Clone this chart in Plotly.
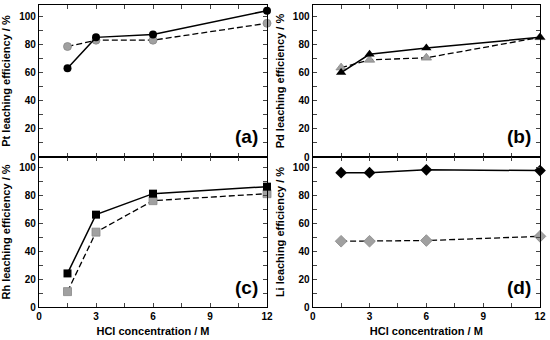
import plotly.graph_objects as go

hcl = [1.5, 3, 6, 12]
pt_black = [63, 85, 87, 104]
pt_gray = [78.5, 83, 83, 95]
pd_black = [60, 73, 77.5, 85]
pd_gray = [63.5, 69, 70.5, 85]
rh_black = [24, 66, 81, 86]
rh_gray = [11, 53.5, 76, 81]
li_black = [96, 96, 98, 97.5]
li_gray = [47, 47, 47.5, 50.5]

panels = [
    ("x", "y", pt_black, pt_gray, "circle", 8, "Pt leaching efficiency / %", "(a)"),
    ("x2", "y2", pd_black, pd_gray, "triangle-up", 9, "Pd leaching efficiency / %", "(b)"),
    ("x3", "y3", rh_black, rh_gray, "square", 8, "Rh leaching efficiency / %", "(c)"),
    ("x4", "y4", li_black, li_gray, "diamond", 9, "Li leaching efficiency / %", "(d)"),
]

FONT = "Arial, Liberation Sans, sans-serif"
fig = go.Figure()
for xa, ya, blk, gry, sym, msz, title, lab in panels:
    fig.add_trace(go.Scatter(x=hcl, y=gry, xaxis=xa, yaxis=ya, mode="lines+markers",
                             line=dict(color="black", width=1.3, dash="6px,3px"),
                             marker=dict(symbol=sym, size=msz, color="#a0a0a0",
                                         line=dict(color="#888888", width=0.8)),
                             cliponaxis=False, showlegend=False))
    fig.add_trace(go.Scatter(x=hcl, y=blk, xaxis=xa, yaxis=ya, mode="lines+markers",
                             line=dict(color="black", width=1.5),
                             marker=dict(symbol=sym, size=msz, color="black"),
                             cliponaxis=False, showlegend=False))

W, H = 550, 340
xl = [39 / W, 267 / W]
xr = [312.7 / W, 540 / W]
yt = [(H - 157) / H, (H - 5) / H]
yb = [(H - 307) / H, (H - 157) / H]

def xaxis(dom, anchor, labels):
    return dict(domain=dom, anchor=anchor, range=[0, 12], tickvals=[0, 3, 6, 9, 12],
                showticklabels=labels, ticks="inside", ticklen=4, tickwidth=1,
                minor=dict(tickvals=[1.5, 4.5, 7.5, 10.5], ticks="inside", ticklen=4, tickwidth=1),
                showline=True, linecolor="black", linewidth=1.3, mirror="ticks",
                showgrid=False, zeroline=False, automargin=False,
                tickfont=dict(family=FONT, size=10, color="black", weight="bold"),
                title=dict(text="HCl concentration / M" if labels else "", standoff=6,
                           font=dict(family=FONT, size=11, color="black", weight="bold")))

def yaxis(dom, anchor, rng, title):
    return dict(domain=dom, anchor=anchor, range=rng, tickvals=[0, 20, 40, 60, 80, 100],
                ticks="inside", ticklen=4, tickwidth=1,
                minor=dict(tickvals=[10, 30, 50, 70, 90], ticks="inside", ticklen=4, tickwidth=1),
                showline=True, linecolor="black", linewidth=1.3, mirror="ticks",
                showgrid=False, zeroline=False, automargin=False,
                tickfont=dict(family=FONT, size=10, color="black", weight="bold"),
                title=dict(text=title, standoff=6,
                           font=dict(family=FONT, size=11, color="black", weight="bold")))

fig.update_layout(
    width=W, height=H, margin=dict(l=0, r=0, t=0, b=0),
    plot_bgcolor="white", paper_bgcolor="white",
    xaxis=xaxis(xl, "y", False), yaxis=yaxis(yt, "x", [0, 108], panels[0][6]),
    xaxis2=xaxis(xr, "y2", False), yaxis2=yaxis(yt, "x2", [0, 108], panels[1][6]),
    xaxis3=xaxis(xl, "y3", True), yaxis3=yaxis(yb, "x3", [0, 107.2], panels[2][6]),
    xaxis4=xaxis(xr, "y4", True), yaxis4=yaxis(yb, "x4", [0, 107.2], panels[3][6]),
)

for i, p in enumerate(panels):
    sfx = "" if i == 0 else str(i + 1)
    fig.add_annotation(text=p[7], xref="x" + sfx + " domain", yref="y" + sfx + " domain",
                       x=0.97, y=0.05, xanchor="right", yanchor="bottom", showarrow=False,
                       font=dict(family=FONT, size=19, color="black", weight="bold"))

fig.write_html("out.html", config={"displayModeBar": False},
               post_script="document.body.style.margin='0';document.body.style.overflow='hidden';")
